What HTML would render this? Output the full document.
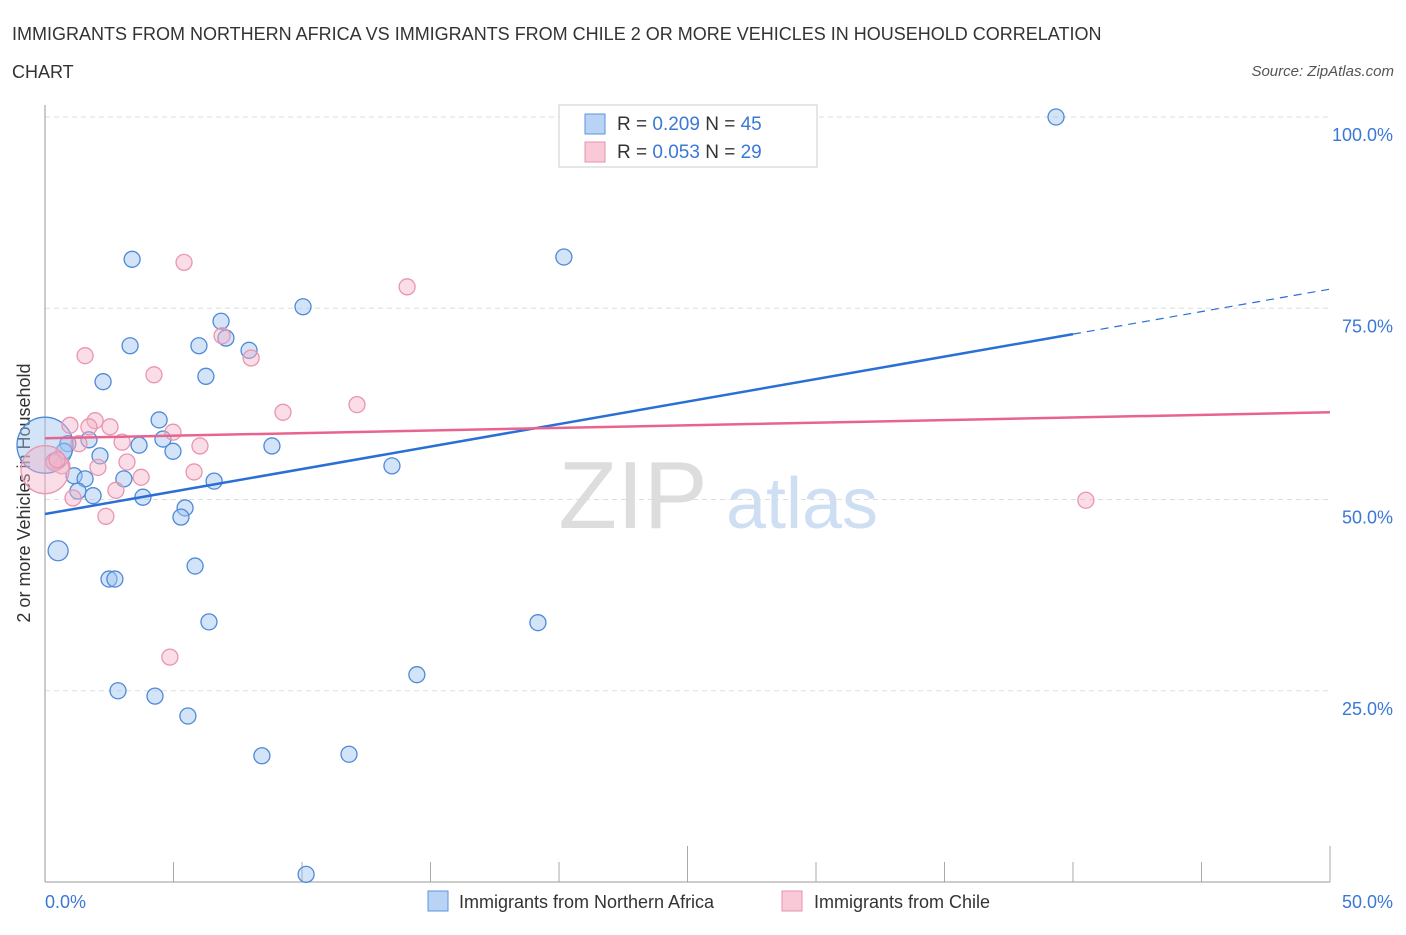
<!DOCTYPE html>
<html><head><meta charset="utf-8"><style>
body{margin:0;background:#fff;font-family:"Liberation Sans",sans-serif;}
svg text{font-family:"Liberation Sans",sans-serif;}
</style></head><body>
<svg id="c" width="1406" height="930">
<text x="12" y="40" font-size="18" fill="#333">IMMIGRANTS FROM NORTHERN AFRICA VS IMMIGRANTS FROM CHILE 2 OR MORE VEHICLES IN HOUSEHOLD CORRELATION</text>
<text x="12" y="78" font-size="18" fill="#333">CHART</text>
<text x="1394" y="76" font-size="15" fill="#555" font-style="italic" text-anchor="end">Source: ZipAtlas.com</text>
<text x="633" y="528" font-size="96" fill="#ddd" font-family="Liberation Serif" text-anchor="middle">ZIP</text>
<text x="802" y="528" font-size="72" fill="#cfdff3" text-anchor="middle">atlas</text>
<g id="grid"></g>
<line x1="45" y1="105" x2="45" y2="882" stroke="#999"/>
<line x1="45" y1="882" x2="1330" y2="882" stroke="#999"/>
<text x="30" y="493" font-size="18" fill="#333" text-anchor="middle" transform="rotate(-90 30 493)">2 or more Vehicles in Household</text>
<text x="45" y="908" font-size="18" fill="#3a78d6">0.0%</text>
<text x="1393" y="908" font-size="18" fill="#3a78d6" text-anchor="end">50.0%</text>
<g id="pts"></g>
<g id="lines"></g>
<g>
<rect x="559" y="105" width="258" height="62" fill="#fff" stroke="#ccc"/>
<rect x="585" y="114" width="20" height="20" fill="#b9d3f5" stroke="#5b93dc"/>
<rect x="585" y="142" width="20" height="20" fill="#f9c9d8" stroke="#e893ae"/>
<text x="617" y="130" font-size="19" fill="#333">R = <tspan fill="#3a78d6">0.209</tspan>   N = <tspan fill="#3a78d6">45</tspan></text>
<text x="617" y="158" font-size="19" fill="#333">R = <tspan fill="#3a78d6">0.053</tspan>   N = <tspan fill="#3a78d6">29</tspan></text>
</g>
<g>
<rect x="428" y="891" width="20" height="20" fill="#b9d3f5" stroke="#5b93dc"/>
<text x="459" y="908" font-size="18" fill="#333">Immigrants from Northern Africa</text>
<rect x="782" y="891" width="20" height="20" fill="#f9c9d8" stroke="#e893ae"/>
<text x="814" y="908" font-size="18" fill="#333">Immigrants from Chile</text>
</g>
</svg>
<script>
const yTicks=[25,50,75,100];
const yTickLabels=["25.0%","50.0%","75.0%","100.0%"];
const xTicks=[0,5,10,15,20,25,30,35,40,45,50];
const blueX=[39.34,20.19,3.39,10.04,6.85,3.31,5.99,7.04,7.94,6.26,2.26,4.44,4.59,3.66,1.71,0.89,0.74,8.83,4.98,2.14,0.35,13.5,1.13,1.56,3.07,6.58,1.28,1.87,3.81,5.45,5.29,0.51,2.49,2.72,5.84,6.38,19.18,14.47,2.84,4.28,5.56,8.44,11.83,10.16,0];
const blueY=[100,81.7,81.4,75.2,73.3,70.1,70.1,71.1,69.5,66.1,65.4,60.4,57.9,57.1,57.8,57.3,56.3,57.0,56.3,55.7,55.0,54.4,53.1,52.7,52.7,52.4,51.1,50.5,50.3,48.9,47.7,43.3,39.6,39.6,41.3,34.0,33.9,27.1,25.0,24.3,21.7,16.5,16.7,1.0,57.1];
const blueR=[8,8,8,8,8,8,8,8,8,8,8,8,8,8,8,8,8,8,8,8,8,8,8,8,8,8,8,8,8,8,8,10,8,8,8,8,8,8,8,8,8,8,8,8,28];
const pinkX=[40.5,5.41,14.09,1.56,6.89,8.02,4.24,12.14,9.26,0.97,1.95,1.71,2.53,4.98,3.0,6.03,1.32,3.19,2.06,0.66,5.8,3.74,2.76,1.09,2.37,4.86,0.35,0,0.47];
const pinkY=[49.9,81.0,77.8,68.8,71.4,68.5,66.3,62.4,61.4,59.7,60.3,59.5,59.5,58.8,57.5,57.0,57.3,54.9,54.2,54.4,53.6,52.9,51.2,50.2,47.8,29.4,54.8,53.9,55.2];
const pinkR=[8,8,8,8,8,8,8,8,8,8,8,8,8,8,8,8,8,8,8,8,8,8,8,8,8,8,8,24,8];
const blueTrend=[48.1,77.5], pinkTrend=[58.0,61.4], blueSolidEnd=40;
const X=v=>45+v/50*1285, Y=v=>882-v/100*765;
const NS="http://www.w3.org/2000/svg";
function mk(t,a,p){const e=document.createElementNS(NS,t);for(const k in a)e.setAttribute(k,a[k]);p.appendChild(e);return e;}
const grid=document.getElementById('grid');
yTicks.forEach((t,i)=>{
 const l=mk('line',{x1:45,x2:1330,y1:Y(t),y2:Y(t),stroke:'#ddd','stroke-dasharray':'5,4'},grid);
 
 
 const tx=mk('text',{x:1393,y:Y(t)+24,'font-size':18,fill:'#3a78d6','text-anchor':'end'},grid);
 tx.textContent=yTickLabels[i];
 
 
});
xTicks.forEach((t,i)=>{
 const l=mk('line',{x1:X(t),x2:X(t),y1:(i%5==0&&i>0)?846:862,y2:882,stroke:'#aaa'},grid);
 
 
});
const pts=document.getElementById('pts');
blueX.forEach((x,i)=>{
 const c=mk('circle',{cx:X(x),cy:Y(blueY[i]),r:blueR[i],fill:'rgba(160,195,240,0.45)',stroke:'#4d8ad8','stroke-width':1.3},pts);
 
 
});
pinkX.forEach((x,i)=>{
 const c=mk('circle',{cx:X(x),cy:Y(pinkY[i]),r:pinkR[i],fill:'rgba(245,180,200,0.45)',stroke:'#e995b0','stroke-width':1.3},pts);
 
 
});
const lines=document.getElementById('lines');
const by=x=>blueTrend[0]+(blueTrend[1]-blueTrend[0])*x/50;
let l1=mk('line',{x1:X(0),y1:Y(blueTrend[0]),x2:X(blueSolidEnd),y2:Y(by(blueSolidEnd)),stroke:'#2a6fd6','stroke-width':2.5},lines);


let l2=mk('line',{x1:X(blueSolidEnd),y1:Y(by(blueSolidEnd)),x2:X(50),y2:Y(blueTrend[1]),stroke:'#2a6fd6','stroke-width':1.2,'stroke-dasharray':'8,6'},lines);


let l3=mk('line',{x1:X(0),y1:Y(pinkTrend[0]),x2:X(50),y2:Y(pinkTrend[1]),stroke:'#e8648f','stroke-width':2.5},lines);


</script>
</body></html>
